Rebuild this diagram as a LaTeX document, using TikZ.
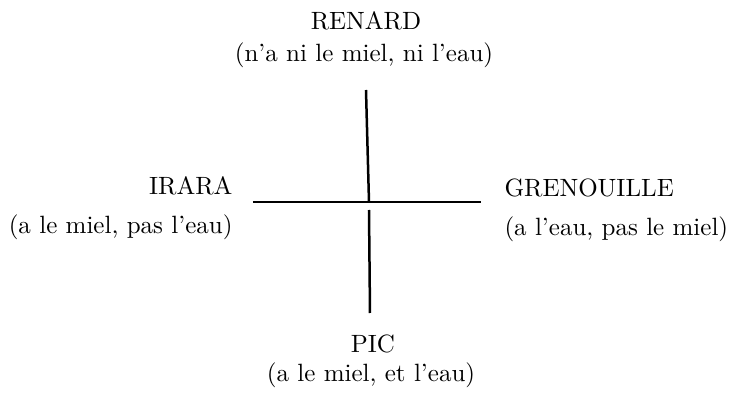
\documentclass[tikz,border=0pt]{standalone}
\usepackage{tikz}
\usetikzlibrary{positioning}
\tikzset{
  tiername/.style={inner sep=0pt, font=\normalsize},
  tiernote/.style={inner sep=0pt, font=\normalsize},
  strich/.style={draw=black, line width=1pt}
}

\begin{document}
\begin{tikzpicture}[x=0.4pt,y=-0.4pt]
\useasboundingbox (0,0) rectangle (736,393);

\coordinate (top) at (366,90);
\coordinate (mid) at (369,202);
\coordinate (gap) at (369,210);
\coordinate (bot) at (370,313);
\coordinate (west) at (253,202);
\coordinate (east) at (481,202);
\draw[strich] (top) -- (mid);
\draw[strich] (west) -- (east);
\draw[strich] (gap) -- (bot);

\node[tiername, anchor=base] (renard) at (366,30) {RENARD};
\node[tiernote, anchor=base] (renard-t) at (364,62) {(n'a ni le miel, ni l'eau)};

\node[tiername, anchor=base east] (irara) at (233,195) {IRARA};
\node[tiernote, anchor=base east] (irara-t) at (233,233) {(a le miel, pas l'eau)};

\node[tiername, anchor=base west] (gren) at (504,197) {GRENOUILLE};
\node[tiernote, anchor=base west] (gren-t) at (504,235) {(a l'eau, pas le miel)};

\node[tiername, anchor=base] (pic) at (373,353) {PIC};
\node[tiernote, anchor=base] (pic-t) at (371,382) {(a le miel, et l'eau)};

\end{tikzpicture}
\end{document}
